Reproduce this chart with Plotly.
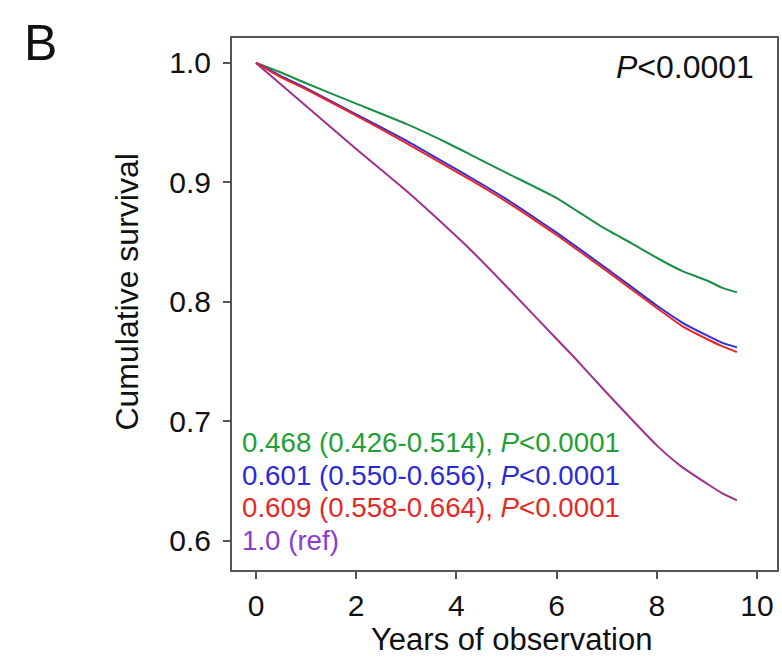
import plotly.graph_objects as go

# ---- data ----
years_green = [0, 0.5, 1, 2, 3, 3.87, 4.25, 5, 6, 6.9, 7.5, 8, 8.5, 9, 9.3, 9.6]
surv_green = [1.0, 0.992, 0.983, 0.966, 0.949, 0.932, 0.924, 0.908, 0.887, 0.863, 0.849, 0.837, 0.826, 0.818, 0.812, 0.808]

years_blue = [0, 0.5, 1, 2, 3, 3.87, 4.25, 5, 5.65, 6, 7, 8, 8.5, 9, 9.3, 9.6]
surv_blue = [1.0, 0.989, 0.979, 0.957, 0.935, 0.914, 0.905, 0.886, 0.868, 0.858, 0.828, 0.797, 0.783, 0.772, 0.766, 0.762]

years_red = [0, 0.5, 1, 2, 3, 3.87, 4.25, 5, 5.65, 6, 7, 8, 8.5, 9, 9.3, 9.6]
surv_red = [1.0, 0.988, 0.978, 0.956, 0.933, 0.912, 0.903, 0.884, 0.866, 0.856, 0.826, 0.795, 0.780, 0.769, 0.763, 0.758]

years_ref = [0, 0.5, 1, 2, 3, 3.87, 4.25, 5, 6, 6.3, 7, 8, 8.5, 9, 9.3, 9.6]
surv_ref = [1.0, 0.982, 0.964, 0.928, 0.893, 0.860, 0.845, 0.813, 0.769, 0.756, 0.724, 0.680, 0.662, 0.648, 0.640, 0.634]

legend_texts = [
    "0.468 (0.426-0.514), <i>P</i><0.0001",
    "0.601 (0.550-0.656), <i>P</i><0.0001",
    "0.609 (0.558-0.664), <i>P</i><0.0001",
    "1.0 (ref)",
]
legend_y = [0.6828, 0.6552, 0.6276, 0.600]

x_ticks = [0, 2, 4, 6, 8, 10]
y_ticks = [0.6, 0.7, 0.8, 0.9, 1.0]
y_tick_labels = ["0.6", "0.7", "0.8", "0.9", "1.0"]

x_title = "Years of observation"
y_title = "Cumulative survival"

# ---- styles ----
FONT = "Liberation Sans, Arial, sans-serif"
line_colors = ["#1b8f45", "#2f2fd8", "#e8262a", "#a0308c"]
text_colors = ["#22a034", "#2b2bd6", "#e52a26", "#8a3ccf"]

fig = go.Figure()
series = [
    (years_ref, surv_ref, line_colors[3]),
    (years_green, surv_green, line_colors[0]),
    (years_blue, surv_blue, line_colors[1]),
    (years_red, surv_red, line_colors[2]),
]
for xs, ys, c in series:
    fig.add_trace(go.Scatter(x=xs, y=ys, mode="lines",
                             line=dict(color=c, width=2, shape="spline", smoothing=0.5),
                             showlegend=False, hoverinfo="skip"))

for t, yv, c in zip(legend_texts, legend_y, text_colors):
    fig.add_annotation(x=-0.32, y=yv, xref="x", yref="y", text=t, showarrow=False,
                       xanchor="left", yanchor="middle",
                       font=dict(family=FONT, size=27.7, color=c))

fig.add_annotation(x=9.98, y=0.9967, xref="x", yref="y", text="<i>P</i><0.0001",
                   showarrow=False, xanchor="right", yanchor="middle",
                   font=dict(family=FONT, size=32, color="#111"))

fig.add_annotation(x=-0.385, y=0.99, xref="paper", yref="paper", text="B",
                   showarrow=False, xanchor="left", yanchor="middle",
                   font=dict(family=FONT, size=50, color="#111"))

# axis titles placed as annotations
fig.add_annotation(x=0.512, y=-0.1306, xref="paper", yref="paper", text=x_title,
                   showarrow=False, xanchor="center", yanchor="middle", borderpad=0,
                   font=dict(family=FONT, size=31, color="#111"))
fig.add_annotation(x=-0.193, y=0.523, xref="paper", yref="paper", text=y_title,
                   showarrow=False, xanchor="center", yanchor="middle", textangle=-90,
                   font=dict(family=FONT, size=32, color="#111"))

axis_common = dict(showline=True, linecolor="#555", linewidth=2, mirror=True,
                   ticks="outside", ticklen=7, tickwidth=2, tickcolor="#555",
                   showgrid=False, zeroline=False, automargin=False,
                   tickfont=dict(family=FONT, size=30, color="#111"))

fig.update_xaxes(range=[-0.479, 10.4], tickvals=x_ticks,
                 ticklabelstandoff=1, **axis_common)
fig.update_yaxes(range=[0.5757, 1.0209], tickvals=y_ticks, ticktext=y_tick_labels,
                 ticklabelstandoff=6, **axis_common)

fig.update_layout(width=782, height=658, margin=dict(l=232, r=5, t=38, b=88),
                  paper_bgcolor="white", plot_bgcolor="white",
                  font=dict(family=FONT))

fig.write_html("out.html")
